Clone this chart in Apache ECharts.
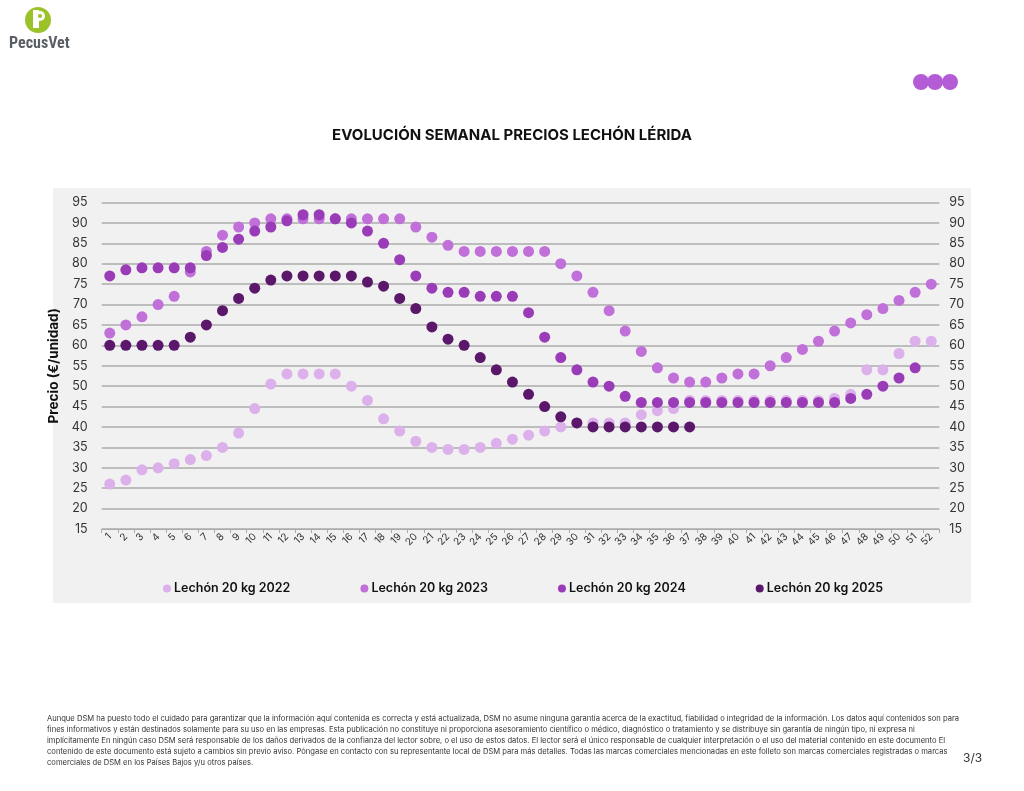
<!DOCTYPE html>
<html><head><meta charset="utf-8">
<script src="https://cdn.jsdelivr.net/npm/echarts@6/dist/echarts.min.js"></script>
<style>html,body{margin:0;padding:0;background:#fff}#c{width:1024px;height:791px}</style>
</head><body><div id="c"></div>
<script>
const weeks = Array.from({length:52},(_,i)=>String(i+1));
const yTicks = [15,20,25,30,35,40,45,50,55,60,65,70,75,80,85,90,95];
const s2022 = [26,27,29.5,30,31,32,33,35,38.5,44.5,50.5,53,53,53,53,50,46.5,42,39,36.5,35,34.5,34.5,35,36,37,38,39,40,41,41,41,41,43,44,44.5,46.5,46.5,46.5,46.5,46.5,46.5,46.5,46.5,46.5,47,48,54,54,58,61,61];
const s2023 = [63,65,67,70,72,78,83,87,89,90,91,91,91,91,91,91,91,91,91,89,86.5,84.5,83,83,83,83,83,83,80,77,73,68.5,63.5,58.5,54.5,52,51,51,52,53,53,55,57,59,61,63.5,65.5,67.5,69,71,73,75];
const s2024 = [77,78.5,79,79,79,79,82,84,86,88,89,90.5,92,92,91,90,88,85,81,77,74,73,73,72,72,72,68,62,57,54,51,50,47.5,46,46,46,46,46,46,46,46,46,46,46,46,46,47,48,50,52,54.5,null];
const s2025 = [60,60,60,60,60,62,65,68.5,71.5,74,76,77,77,77,77,77,75.5,74.5,71.5,69,64.5,61.5,60,57,54,51,48,45,42.5,41,40,40,40,40,40,40,40,null,null,null,null,null,null,null,null,null,null,null,null,null,null,null];
const names = ['Lechón 20 kg 2022','Lechón 20 kg 2023','Lechón 20 kg 2024','Lechón 20 kg 2025'];
const colors = ['#dcb0ea','#c070d8','#9a3bb8','#5b176a'];
const footer = [
'Aunque DSM ha puesto todo el cuidado para garantizar que la información aquí contenida es correcta y está actualizada, DSM no asume ninguna garantía acerca de la exactitud, fiabilidad o integridad de la información. Los datos aquí contenidos son para',
'fines informativos y están destinados solamente para su uso en las empresas. Esta publicación no constituye ni proporciona asesoramiento científico o médico, diagnóstico o tratamiento y se distribuye sin garantía de ningún tipo, ni expresa ni',
'implícitamente En ningún caso DSM será responsable de los daños derivados de la confianza del lector sobre, o el uso de estos datos. El lector será el único responsable de cualquier interpretación o el uso del material contenido en este documento El',
'contenido de este documento está sujeto a cambios sin previo aviso. Póngase en contacto con su representante local de DSM para más detalles. Todas las marcas comerciales mencionadas en este folleto son marcas comerciales registradas o marcas',
'comerciales de DSM en los Países Bajos y/u otros países.'
];
const FF = 'Inter, "Noto Sans", sans-serif';
const chart = echarts.init(document.getElementById('c'));
const series = [s2022,s2023,s2024,s2025].map((d,i)=>({
  name: names[i], type:'scatter', data:d, symbolSize:11, yAxisIndex:0,
  itemStyle:{color:colors[i], opacity:1}, z: 3+i
}));
const graphic = [
  {type:'rect', z:-10, shape:{x:53,y:188,width:918,height:415}, style:{fill:'#f1f1f1'}},
  {type:'circle', shape:{cx:38,cy:20,r:13}, style:{fill:'#9cc22a'}},
  {type:'rect', shape:{x:33,y:10,width:6,height:18}, style:{fill:'#fff'}},
  {type:'circle', shape:{cx:40,cy:16,r:5}, style:{fill:'#fff'}},
  {type:'circle', shape:{cx:40,cy:16,r:2}, style:{fill:'#9cc22a'}},
  {type:'text', left:9, top:36, style:{text:'PecusVet', font:'bold 16px "Liberation Sans Narrow", "Roboto Condensed", sans-serif', fill:'#5a5f66'}},
  {type:'circle', shape:{cx:921,cy:82,r:8}, style:{fill:'#b35cd6'}},
  {type:'circle', shape:{cx:935,cy:82,r:8}, style:{fill:'#b35cd6'}},
  {type:'circle', shape:{cx:950,cy:82,r:8}, style:{fill:'#b35cd6'}},
  {type:'text', left:963, top:752, style:{text:'3/3', font:'12px '+FF, fill:'#333'}}
];
footer.forEach((t,i)=>graphic.push({type:'text', left:47, top:715+i*11, style:{text:t, font:'7.6px '+FF, fill:'#333'}}));
chart.setOption({
  animation:false,
  backgroundColor:'#fff',
  title:{text:'EVOLUCIÓN SEMANAL PRECIOS LECHÓN LÉRIDA', left:'center', top:123, textStyle:{fontFamily:FF, fontSize:15, fontWeight:'bold', color:'#111'}},
  legend:{data:names, left:158, top:577, icon:'circle', itemWidth:8, itemHeight:8, itemGap:70,
    textStyle:{fontFamily:FF, fontSize:12.5, fontWeight:600, color:'#111', padding:[0,0,0,-2]}},
  grid:{left:101.7, right:84.7, top:202.5, bottom:262},
  xAxis:{type:'category', data:weeks, boundaryGap:true,
    axisLine:{lineStyle:{color:'#aaa', width:1}}, axisTick:{show:true, lineStyle:{color:'#aaa'}, length:4},
    axisLabel:{rotate:45, fontSize:10, color:'#333', fontFamily:FF, interval:0, margin:6}},
  yAxis:[
    {type:'value', min:15, max:95, interval:5, name:'Precio (€/unidad)', nameLocation:'middle', nameGap:27, nameRotate:90,
     nameTextStyle:{fontFamily:FF, fontSize:13.5, fontWeight:'bold', color:'#111'},
     axisLabel:{fontSize:12.5, color:'#333', fontFamily:FF, margin:14},
     axisLine:{show:false}, axisTick:{show:false}, splitLine:{lineStyle:{color:'#ababab', width:1.5}}},
    {type:'value', min:15, max:95, interval:5, position:'right',
     axisLabel:{fontSize:12.5, color:'#333', fontFamily:FF, margin:10},
     axisLine:{show:false}, axisTick:{show:false}, splitLine:{show:false}}
  ],
  series: series.concat([{type:'scatter', yAxisIndex:1, data:[], silent:true}]),
  graphic: graphic
});
</script></body></html>
